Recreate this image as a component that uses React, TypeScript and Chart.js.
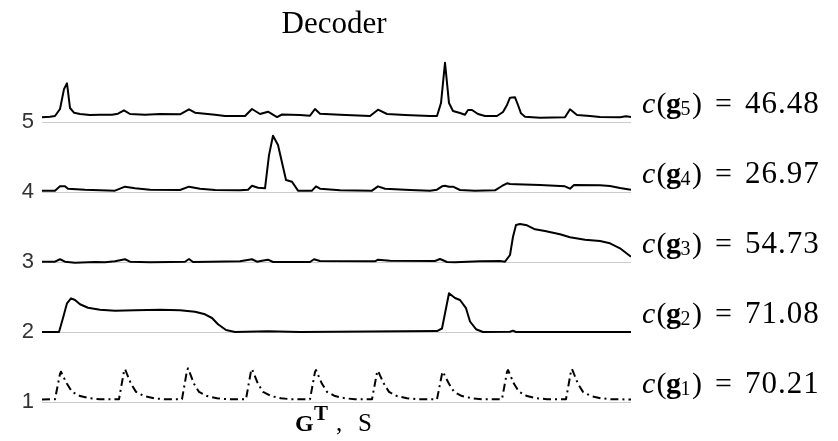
import React, { useEffect, useRef } from "react";
import { Chart, registerables } from "chart.js";

Chart.register(...registerables);

// ---- data ----
const titleText = "Decoder";
const levels = [1, 2, 3, 4, 5];
const yTickLabels = ["1", "2", "3", "4", "5"];
const costs = ["70.21", "71.08", "54.73", "26.97", "46.48"];

// sample positions (t) and activations (offset above each trace's baseline)
const g5T = [0, 8, 13, 18, 22, 25, 28, 32, 38, 48, 58, 70, 76, 82, 88, 103, 118, 138, 147, 153, 163, 173, 183, 203, 210, 218, 226, 235, 240, 258, 268, 273, 278, 298, 328, 336, 345, 363, 388, 395, 399, 403, 407, 411, 418, 423, 426, 430, 436, 443, 455, 461, 465, 468, 473, 476, 479, 483, 498, 523, 528, 535, 548, 558, 578, 584, 589];
const g5V = [0.067, 0.076, 0.086, 0.186, 0.47, 0.553, 0.2, 0.133, 0.114, 0.1, 0.104, 0.104, 0.119, 0.167, 0.114, 0.104, 0.114, 0.11, 0.181, 0.133, 0.119, 0.104, 0.086, 0.086, 0.186, 0.114, 0.147, 0.071, 0.107, 0.1, 0.09, 0.186, 0.119, 0.104, 0.086, 0.176, 0.114, 0.1, 0.086, 0.086, 0.271, 0.847, 0.271, 0.157, 0.129, 0.104, 0.171, 0.171, 0.114, 0.086, 0.086, 0.143, 0.243, 0.347, 0.353, 0.243, 0.124, 0.076, 0.061, 0.067, 0.181, 0.1, 0.086, 0.071, 0.067, 0.081, 0.071];

const g4T = [0, 13, 18, 23, 26, 43, 73, 83, 93, 108, 138, 147, 158, 173, 198, 206, 210, 216, 223, 227, 231, 236, 244, 250, 256, 270, 274, 278, 298, 330, 336, 343, 368, 388, 395, 400, 403, 407, 411, 418, 433, 453, 460, 465, 468, 474, 498, 523, 528, 532, 558, 568, 578, 589];
const g4V = [0.019, 0.019, 0.081, 0.081, 0.047, 0.033, 0.019, 0.076, 0.053, 0.033, 0.029, 0.076, 0.047, 0.029, 0.024, 0.033, 0.09, 0.061, 0.053, 0.527, 0.804, 0.671, 0.171, 0.147, 0.019, 0.019, 0.081, 0.047, 0.024, 0.019, 0.081, 0.047, 0.029, 0.019, 0.033, 0.081, 0.09, 0.076, 0.076, 0.029, 0.019, 0.024, 0.086, 0.124, 0.114, 0.11, 0.1, 0.081, 0.047, 0.1, 0.096, 0.086, 0.057, 0.033];

const g3T = [0, 13, 18, 23, 33, 53, 63, 73, 83, 88, 108, 128, 143, 147, 151, 168, 198, 210, 215, 220, 226, 231, 248, 268, 272, 278, 333, 336, 348, 393, 398, 405, 413, 438, 458, 463, 468, 471, 474, 478, 485, 493, 503, 518, 528, 543, 558, 568, 578, 589];
const g3V = [0.004, 0.004, 0.039, 0.004, -0.01, 0, -0.004, 0.01, 0.039, 0.004, -0.004, 0, 0.004, 0.043, 0, 0.004, 0.01, 0.039, 0.004, 0.019, 0.033, 0, 0, 0, 0.039, 0.014, 0.01, 0.033, 0.019, 0.014, 0.043, 0, -0.004, 0.01, 0.014, 0.004, 0.1, 0.361, 0.529, 0.543, 0.524, 0.467, 0.443, 0.396, 0.353, 0.319, 0.3, 0.267, 0.196, 0.076];

const g2T = [0, 17, 21, 25, 29, 33, 38, 46, 58, 73, 93, 118, 138, 153, 163, 170, 176, 184, 193, 226, 258, 395, 400, 407, 413, 418, 424, 428, 434, 441, 468, 471, 474, 589];
const g2V = [0, 0, 0.2, 0.41, 0.481, 0.457, 0.396, 0.347, 0.319, 0.304, 0.31, 0.319, 0.31, 0.29, 0.253, 0.2, 0.11, 0.029, 0, 0.01, 0, 0.014, 0.05, 0.553, 0.486, 0.457, 0.34, 0.15, 0.04, 0, 0.004, 0.019, 0, 0];

const g1T = [0, 13, 18, 19, 21, 25, 30, 38, 48, 58,
  77, 82, 83, 85, 89, 94, 102, 112, 122,
  140, 145, 146, 148, 152, 157, 165, 175, 185,
  204, 209, 210, 212, 216, 221, 229, 239, 249,
  268, 273, 274, 276, 280, 285, 293, 303, 313,
  330, 335, 336, 338, 342, 347, 355, 365, 375,
  395, 400, 401, 403, 407, 412, 420, 430, 440,
  460, 465, 466, 468, 472, 477, 485, 495, 505,
  524, 529, 530, 532, 536, 541, 549, 559, 569,
  589];
const g1V = [0.036, 0.04, 0.4, 0.433, 0.37, 0.26, 0.145, 0.085, 0.053, 0.04,
  0.04, 0.44, 0.471, 0.4, 0.26, 0.145, 0.085, 0.053, 0.04,
  0.04, 0.45, 0.481, 0.41, 0.26, 0.145, 0.085, 0.053, 0.04,
  0.04, 0.44, 0.471, 0.4, 0.26, 0.145, 0.085, 0.053, 0.04,
  0.04, 0.43, 0.457, 0.39, 0.26, 0.145, 0.085, 0.053, 0.04,
  0.04, 0.42, 0.447, 0.38, 0.26, 0.145, 0.085, 0.053, 0.04,
  0.04, 0.4, 0.433, 0.37, 0.26, 0.145, 0.085, 0.053, 0.04,
  0.04, 0.43, 0.457, 0.39, 0.26, 0.145, 0.085, 0.053, 0.04,
  0.04, 0.44, 0.471, 0.4, 0.26, 0.145, 0.085, 0.053, 0.04,
  0.036];

const seriesT = [g1T, g2T, g3T, g4T, g5T];
const seriesV = [g1V, g2V, g3V, g4V, g5V];

const SERIF = '"Liberation Serif", "Times New Roman", serif';

const annotatePlugin = {
  id: "annotate",
  afterDraw(chart: any) {
    const ctx = chart.ctx as CanvasRenderingContext2D;
    const area = chart.chartArea;
    const ys = chart.scales.y;
    ctx.save();
    ctx.fillStyle = "#000";
    ctx.textBaseline = "alphabetic";
    const cx = (area.left + area.right) / 2;

    // title
    ctx.font = `31px ${SERIF}`;
    ctx.textAlign = "center";
    ctx.fillText(titleText, cx - 2.5, 33);

    // x label: G^T, S
    ctx.textAlign = "left";
    const x0 = cx - 41.5;
    const base = area.bottom + 18.5;
    ctx.font = `bold 24px ${SERIF}`;
    ctx.fillText("G", x0, base);
    ctx.font = `bold 21px ${SERIF}`;
    ctx.fillText("T", x0 + 19, base - 11);
    ctx.font = `25px ${SERIF}`;
    ctx.fillText(",", x0 + 41, base);
    ctx.fillText("S", x0 + 63, base);

    // right labels c(g_i) = value
    levels.forEach((lvl, i) => {
      const y = ys.getPixelForValue(lvl) - 9;
      const L = area.right + 11;
      ctx.font = `italic 30px ${SERIF}`;
      ctx.fillText("c", L, y);
      ctx.font = `30px ${SERIF}`;
      ctx.fillText("(", L + 14.5, y);
      ctx.font = `bold 30px ${SERIF}`;
      ctx.fillText("g", L + 24, y);
      ctx.font = `20px ${SERIF}`;
      ctx.fillText(String(lvl), L + 38.5, y + 2);
      ctx.font = `30px ${SERIF}`;
      ctx.fillText(")", L + 50, y);
      ctx.fillText("=", L + 73, y);
      ctx.font = `31px ${SERIF}`;
      (ctx as any).letterSpacing = "1px";
      ctx.fillText(costs[i], L + 103, y);
      (ctx as any).letterSpacing = "0px";
    });
    ctx.restore();
  },
};

export default function App() {
  const canvasRef = useRef<HTMLCanvasElement | null>(null);

  useEffect(() => {
    const canvas = canvasRef.current;
    if (!canvas) return;
    const datasets = levels.map((lvl, i) => ({
      label: `g${lvl}`,
      data: seriesT[i].map((t, k) => ({ x: t, y: lvl + seriesV[i][k] })),
      borderColor: "#000",
      borderWidth: 2,
      pointRadius: 0,
      fill: false,
      tension: 0,
      borderJoinStyle: "round" as const,
      borderDash: i === 0 ? [8, 4, 2, 4] : [],
    }));

    const chart = new Chart(canvas, {
      type: "line",
      data: { datasets },
      options: {
        animation: false,
        responsive: false,
        devicePixelRatio: 1,
        layout: { padding: { left: 0, top: 55.5, right: 207, bottom: 28.5 } },
        plugins: {
          legend: { display: false },
          title: { display: false },
          tooltip: { enabled: false },
        },
        scales: {
          x: { type: "linear", min: 0, max: 589, display: false },
          y: {
            type: "linear",
            min: 0.85,
            max: 5.95,
            border: { display: false },
            grid: { color: "#cccccc", lineWidth: 1, drawTicks: false },
            afterBuildTicks: (scale: any) => {
              scale.ticks = levels.map((v) => ({ value: v }));
            },
            afterFit: (scale: any) => {
              scale.width = 42;
            },
            ticks: {
              padding: 8,
              color: "#333",
              font: { family: '"Liberation Sans", Arial, sans-serif', size: 22 },
              callback: (v: any) => {
                const idx = levels.indexOf(Number(v));
                return idx >= 0 ? yTickLabels[idx] : "";
              },
            },
          },
        },
      },
      plugins: [annotatePlugin],
    });
    return () => chart.destroy();
  }, []);

  return (
    <div style={{ position: "absolute", left: 0, top: 0, width: 838, height: 441, background: "#fff" }}>
      <canvas ref={canvasRef} width={838} height={441} style={{ width: 838, height: 441, display: "block" }} />
    </div>
  );
}
